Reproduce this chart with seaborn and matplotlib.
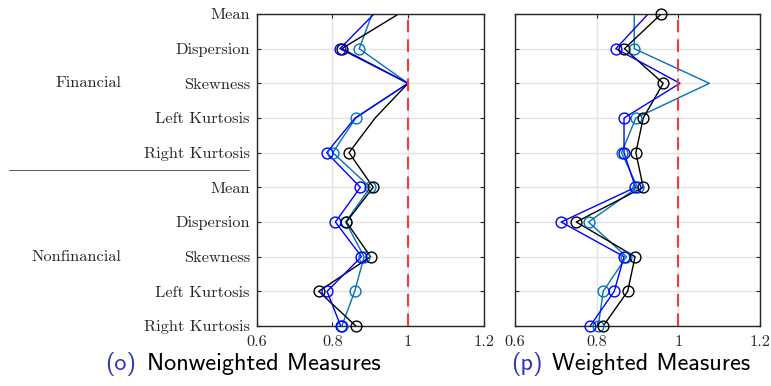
import numpy as np
import pandas as pd
import matplotlib
matplotlib.use("Agg")
import matplotlib.pyplot as plt
import matplotlib.transforms as mtransforms
import seaborn as sns

# ---------------- data ----------------
measures = ["Mean", "Dispersion", "Skewness", "Left Kurtosis", "Right Kurtosis"]
groups = ["Financial", "Nonfinancial"]
row_labels = measures + measures

x_ticks = [0.6, 0.8, 1.0, 1.2]
x_tick_labels = ["0.6", "0.8", "1", "1.2"]

# Nonweighted measures (left panel)
nw_black = [0.975, 0.825, 1.00, 0.913, 0.844, 0.908, 0.837, 0.901, 0.764, 0.862]
nw_blue = [0.910, 0.820, 1.00, 0.860, 0.785, 0.874, 0.808, 0.877, 0.786, 0.822]
nw_light = [0.905, 0.871, 1.00, 0.862, 0.801, 0.900, 0.835, 0.884, 0.859, 0.825]
nw_black_mk = [0, 1, 0, 0, 1, 1, 1, 1, 1, 1]
nw_blue_mk = [0, 1, 0, 0, 1, 1, 1, 1, 1, 1]
nw_light_mk = [0, 1, 0, 1, 1, 1, 1, 1, 1, 1]

# Weighted measures (right panel)
w_black = [0.958, 0.868, 0.963, 0.914, 0.896, 0.914, 0.750, 0.894, 0.876, 0.816]
w_blue = [0.926, 0.847, 1.004, 0.867, 0.867, 0.895, 0.713, 0.867, 0.843, 0.784]
w_light = [0.892, 0.892, 1.076, 0.896, 0.861, 0.900, 0.780, 0.873, 0.816, 0.804]
w_black_mk = [1, 1, 1, 1, 1, 1, 1, 1, 1, 1]
w_blue_mk = [0, 1, 0, 1, 1, 1, 1, 1, 1, 1]
w_light_mk = [0, 1, 0, 1, 1, 1, 1, 1, 1, 1]

captions = [("(o)", "Nonweighted Measures"), ("(p)", "Weighted Measures")]

# ---------------- style ----------------
sns.set_theme(style="white")
plt.rcParams["font.family"] = ["cmr10", "DejaVu Serif"]
plt.rcParams["axes.formatter.use_mathtext"] = True

C_BLACK = "#000000"
C_BLUE = "#0000FF"
C_LIGHT = "#0072BD"
C_RED = "#F03C3C"
FS = 11.8

fig = plt.figure(figsize=(7.71, 3.86), dpi=100)
W, H = 771.0, 386.0
ax_top, ax_bot = 14.0, 326.0
axL = fig.add_axes([256.7 / W, 1 - ax_bot / H, 227.0 / W, (ax_bot - ax_top) / H])
axR = fig.add_axes([515.0 / W, 1 - ax_bot / H, 245.0 / W, (ax_bot - ax_top) / H])

pos = np.arange(len(row_labels))

panels = [
    (axL, [(nw_light, nw_light_mk, C_LIGHT), (nw_black, nw_black_mk, C_BLACK), (nw_blue, nw_blue_mk, C_BLUE)]),
    (axR, [(w_light, w_light_mk, C_LIGHT), (w_black, w_black_mk, C_BLACK), (w_blue, w_blue_mk, C_BLUE)]),
]

for ax, series in panels:
    for vals, mk, col in series:
        df = pd.DataFrame({"value": vals, "pos": pos, "mk": mk})
        sns.lineplot(data=df, x="value", y="pos", orient="y", sort=False,
                     color=col, lw=1.0, ax=ax, estimator=None)
        sub = df[df["mk"] == 1]
        ax.plot(sub["value"], sub["pos"], linestyle="none", marker="o",
                ms=7.8, mfc="none", mec=col, mew=1.0, clip_on=False, zorder=4)
    ax.axvline(1.0, color=C_RED, lw=1.5, ls=(0, (6.0, 3.4)), zorder=3)
    ax.set_xlim(0.6, 1.2)
    ax.set_ylim(len(row_labels) - 1, 0)
    ax.set_xticks(x_ticks)
    ax.set_xticklabels(x_tick_labels)
    ax.set_yticks(pos)
    ax.grid(True, color="#E3E3E3", lw=1.0, zorder=0)
    ax.set_axisbelow(True)
    ax.set_xlabel("")
    ax.set_ylabel("")
    for s in ax.spines.values():
        s.set_color("#262626")
        s.set_linewidth(1.0)
        s.set_visible(True)
    ax.tick_params(direction="in", length=3, width=0.8, color="#262626",
                   top=True, right=True, bottom=True, left=True,
                   labelsize=FS, labelcolor="#262626", pad=5)
    ax.tick_params(axis="x", pad=7)
    if ax.legend_:
        ax.legend_.remove()

axL.set_yticklabels(row_labels)
axR.set_yticklabels([])

# group labels and separator
blend = mtransforms.blended_transform_factory(fig.transFigure, axL.transData)
for gi, g in enumerate(groups):
    fig.text(121 / W, gi * len(measures) + 2, g, transform=blend, ha="right",
             va="center", fontsize=FS, color="#262626")
sep = plt.Line2D([9 / W, 249 / W], [4.5, 4.5], transform=blend, color="#555555",
                 lw=0.7, clip_on=False)
fig.add_artist(sep)

# captions
cap_y = 1 - 364 / H
for (lab, txt), (xr, xl) in zip(captions, [(136 / W, 147 / W), (543 / W, 552 / W)]):
    fig.text(xr, cap_y, lab, ha="right", va="center", fontsize=17.5,
             family=["cmss10", "DejaVu Sans"], color="#3333B3")
    fig.text(xl, cap_y, txt, ha="left", va="center", fontsize=17.5,
             family=["cmss10", "DejaVu Sans"], color="#000000")

fig.savefig("out.png", dpi=100)
